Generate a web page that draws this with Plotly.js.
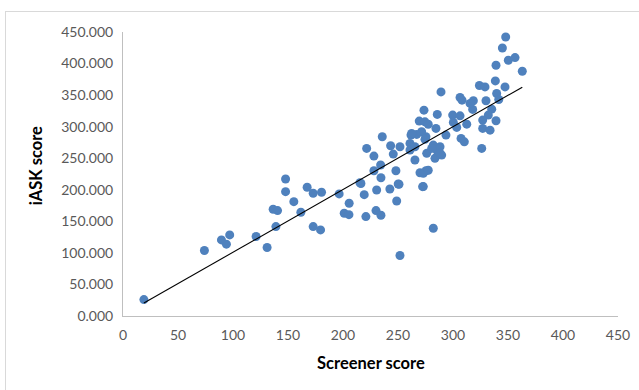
<!DOCTYPE html>
<html>
<head>
<meta charset="utf-8">
<script src="https://cdn.plot.ly/plotly-3.0.1.min.js"></script>
<style>
html,body{margin:0;padding:0;background:#fff;overflow:hidden;width:639px;height:390px;}
#frame{position:absolute;left:5px;top:11px;width:634px;height:379px;border-left:1px solid #d9d9d9;border-top:1px solid #d9d9d9;box-sizing:border-box;}
#chart{position:absolute;left:0;top:0;width:639px;height:390px;}
</style>
</head>
<body>
<div id="frame"></div>
<div id="chart"></div>
<script>
// Screener score (x) and iASK score (y)
const screenerScore = [
  19, 74, 89.5, 94, 97, 121, 131, 139, 136.5, 140.5, 147.8, 147.8, 155.3, 161.7, 167.4, 172.9, 179.6,
  172.9, 180.5, 196.5, 205.6, 201.1, 205.4, 216.3, 219.3, 230.6, 220.8, 230, 234.5, 242.6, 250.9, 248.8,
  273, 282.1, 251.8,
  347.9, 344.9, 350.3, 356.4, 363, 339.1, 338.5, 347.3, 324, 329.1, 339.7, 341.6, 289.1, 306.4, 308.2,
  318.5, 330, 317.9, 335.2, 332.1, 273.6, 285.7, 299.7, 306.4, 327, 339.1, 269.3, 274.5, 300.3, 312.5,
  284.5, 303.4, 327, 333.7, 293.6, 261.8, 267, 275.4, 307.3, 310.3, 235.7, 243.3, 251.8, 260.9, 265.4,
  282.1, 288.2, 326.1, 221.5, 260.9, 276.1, 285.2, 228.1, 245.7, 289.7, 283.6, 265.4, 234.2, 228.1,
  234.5, 248.1, 270, 275.4, 273, 215.4, 250.2, 272.4,
  277.5, 271.5, 274.5, 277.5, 315.5, 280.6, 288.2, 262.4
];
const iaskScore = [
  26, 103.7, 120.6, 113.8, 128.5, 125.9, 108.5, 141.7, 169.2, 167, 197, 217, 181.2, 164.4, 204, 141.7, 136.4,
  194.5, 196, 193.4, 178.6, 162.8, 160.6, 210, 192.3, 199.7, 157.5, 167, 159.7, 201.3, 208.7, 182.3,
  205, 139, 95.8,
  442, 424.7, 405.2, 409.5, 387.8, 397.3, 372.5, 363, 365.2, 363, 352.6, 343, 355.1, 346.2, 342,
  341, 341, 327.3, 327.7, 318.3, 326.2, 319.4, 318.3, 317.2, 310.4, 309.3, 308.8, 307.7, 306.7, 304,
  297.2, 298.8, 297.2, 294.5, 286.6, 286.6, 287.7, 284, 281.4, 276, 284, 269.8, 268.2, 273.5, 268.2,
  270.8, 268.2, 265.6, 265.6, 263, 257.7, 263, 253.4, 256.6, 255, 249.8, 247.1, 239.2, 230.2,
  219.1, 230.2, 227, 230.2, 226.1, 211.2, 209.2, 204.9,
  303.8, 291.9, 279.9, 231, 336.8, 265.6, 257.7, 289.3
];
// Linear trend line end points
const trendX = [19, 363];
const trendY = [20.5, 362.5];
// Axis ticks
const xTicks = [0, 50, 100, 150, 200, 250, 300, 350, 400, 450];
const yTicks = [0, 50, 100, 150, 200, 250, 300, 350, 400, 450];

const tickFont = {family: 'Lato, "Open Sans", sans-serif', size: 14, color: '#595959'};
const titleFont = {family: 'Lato, "Open Sans", sans-serif', size: 16.5, color: '#000'};

const traces = [
  {
    x: screenerScore, y: iaskScore, type: 'scatter', mode: 'markers',
    marker: {color: '#4f81bd', size: 9, line: {width: 0}},
    hoverinfo: 'x+y'
  },
  {
    x: trendX, y: trendY, type: 'scatter', mode: 'lines',
    line: {color: '#000', width: 1.1}, hoverinfo: 'skip'
  }
];

const layout = {
  width: 639, height: 390,
  margin: {l: 123, r: 21, t: 32, b: 74},
  paper_bgcolor: 'rgba(0,0,0,0)',
  plot_bgcolor: 'rgba(0,0,0,0)',
  showlegend: false,
  xaxis: {
    range: [0, 450], tickvals: xTicks, ticktext: xTicks.map(String),
    showgrid: false, zeroline: false, showline: true, linecolor: '#bfbfbf', linewidth: 1,
    ticks: '', tickfont: tickFont, ticklabelstandoff: 6
  },
  yaxis: {
    range: [0, 450], tickvals: yTicks, ticktext: yTicks.map(v => v.toFixed(3)),
    showgrid: false, zeroline: false, showline: true, linecolor: '#bfbfbf', linewidth: 1,
    ticks: '', tickfont: tickFont, ticklabelstandoff: 6
  },
  annotations: [
    {text: '<b>Screener score</b>', xref: 'paper', yref: 'paper', x: 0.5, y: -0.165,
     xanchor: 'center', yanchor: 'middle', showarrow: false, font: titleFont},
    {text: '<b>iASK score</b>', xref: 'paper', yref: 'paper', x: -0.174, y: 0.53,
     xanchor: 'center', yanchor: 'middle', textangle: -90, showarrow: false, font: titleFont}
  ]
};

Plotly.newPlot('chart', traces, layout, {displayModeBar: false, staticPlot: true});
</script>
</body>
</html>
